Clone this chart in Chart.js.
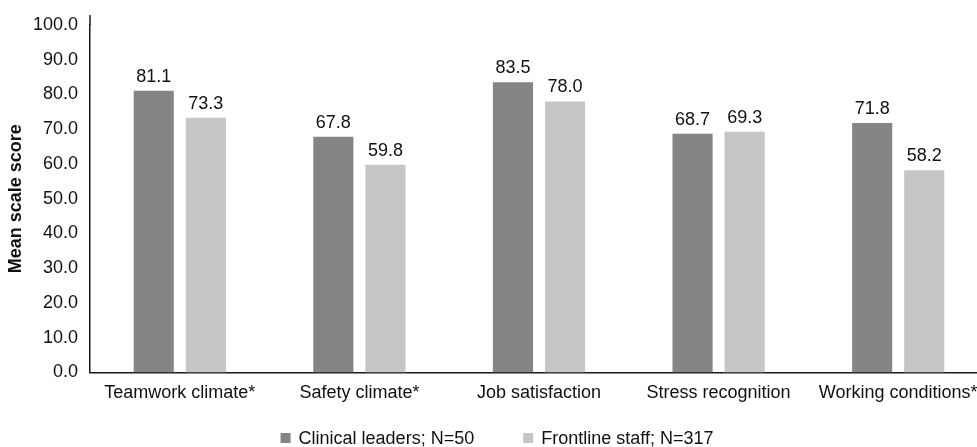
<!DOCTYPE html>
<html>
<head>
<meta charset="utf-8">
<script src="https://cdn.jsdelivr.net/npm/chart.js@4.4.0/dist/chart.umd.min.js"></script>
<style>
  html, body { margin: 0; padding: 0; background: #fff; overflow: hidden; }
  #wrap { width: 977px; height: 447px; overflow: hidden; position: relative; }
  #box { width: 988px; height: 447px; position: absolute; left: 0; top: 0; }
</style>
</head>
<body>
<div id="wrap"><div id="box"><canvas id="chart"></canvas></div></div>
<script>
const categories = ['Teamwork climate*', 'Safety climate*', 'Job satisfaction', 'Stress recognition', 'Working conditions*'];
const leaders = [81.1, 67.8, 83.5, 68.7, 71.8];
const frontline = [73.3, 59.8, 78.0, 69.3, 58.2];
const seriesNames = ['Clinical leaders; N=50', 'Frontline staff; N=317'];
const seriesColors = ['#858585', '#c6c6c6'];
const yTicks = [0, 10, 20, 30, 40, 50, 60, 70, 80, 90, 100];

const FONT = 'Liberation Sans, Arial, sans-serif';

// value labels above each bar
const barValues = {
  id: 'barValues',
  afterDatasetsDraw(chart) {
    const ctx = chart.ctx;
    ctx.save();
    ctx.font = '18px ' + FONT;
    ctx.fillStyle = '#111';
    ctx.textAlign = 'center';
    ctx.textBaseline = 'alphabetic';
    chart.data.datasets.forEach((ds, i) => {
      chart.getDatasetMeta(i).data.forEach((bar, j) => {
        ctx.fillText(ds.data[j].toFixed(1), bar.x, bar.y - 9);
      });
    });
    // y axis line runs a little past the top tick
    const a = chart.chartArea;
    ctx.strokeStyle = '#1a1a1a';
    ctx.lineWidth = 1.5;
    ctx.beginPath();
    ctx.moveTo(a.left, a.top);
    ctx.lineTo(a.left, a.top - 10);
    ctx.stroke();
    ctx.restore();
  }
};

// legend drawn under the axis labels, wide gap between the two entries
const bottomLegend = {
  id: 'bottomLegend',
  afterDraw(chart) {
    const ctx = chart.ctx;
    ctx.save();
    ctx.font = '18px ' + FONT;
    const widths = chart.data.datasets.map(ds => ctx.measureText(ds.label).width);
    const gap = 49;
    const total = widths.reduce((a, w) => a + 18 + w, 0) + gap * (widths.length - 1);
    let x = chart.width / 2 + 3 - total / 2;
    const y = 438;
    ctx.textBaseline = 'middle';
    chart.data.datasets.forEach((ds, i) => {
      ctx.fillStyle = ds.backgroundColor;
      ctx.fillRect(x, y - 5, 10, 10);
      ctx.fillStyle = '#111';
      ctx.fillText(ds.label, x + 18, y + 1);
      x += 18 + widths[i] + gap;
    });
    ctx.restore();
  }
};

new Chart(document.getElementById('chart'), {
  type: 'bar',
  data: {
    labels: categories,
    datasets: [
      { label: seriesNames[0], data: leaders, backgroundColor: seriesColors[0] },
      { label: seriesNames[1], data: frontline, backgroundColor: seriesColors[1] }
    ]
  },
  options: {
    responsive: true,
    maintainAspectRatio: false,
    animation: false,
    categoryPercentage: 0.58,
    barPercentage: 0.77,
    layout: { padding: { top: 25, left: 0, right: 0, bottom: 33 } },
    scales: {
      x: {
        grid: { display: false, drawTicks: false },
        border: { display: true, color: '#1a1a1a', width: 1.5 },
        ticks: { color: '#111', font: { family: FONT, size: 18 }, padding: 10, maxRotation: 0, autoSkip: false }
      },
      y: {
        min: 0,
        max: 100,
        afterBuildTicks: (scale) => { scale.ticks = yTicks.map(v => ({ value: v })); },
        afterFit: (scale) => { scale.width = 90; },
        grid: { display: false, drawTicks: false },
        border: { display: true, color: '#1a1a1a', width: 1.5 },
        ticks: {
          color: '#111',
          font: { family: FONT, size: 18 },
          padding: 12,
          callback: (v) => Number(v).toFixed(1)
        },
        title: {
          display: true,
          text: 'Mean scale score',
          color: '#111',
          font: { family: FONT, size: 18, weight: 'bold' },
          padding: { top: 5, bottom: 0 }
        }
      }
    },
    plugins: {
      legend: { display: false },
      tooltip: { enabled: false }
    }
  },
  plugins: [barValues, bottomLegend]
});
</script>
</body>
</html>
